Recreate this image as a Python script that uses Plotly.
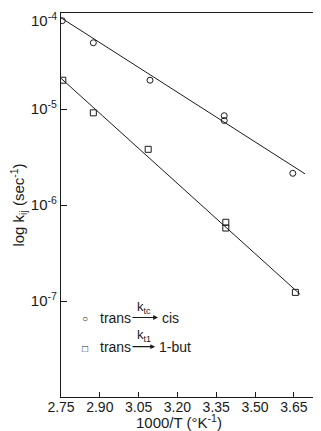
import plotly.graph_objects as go

# data
x_tc = [2.755, 2.875, 3.094, 3.381, 3.381, 3.646]
logk_tc = [-4.08, -4.31, -4.70, -5.07, -5.12, -5.67]
x_t1 = [2.757, 2.875, 3.087, 3.387, 3.387, 3.656]
logk_t1 = [-4.70, -5.04, -5.42, -6.18, -6.24, -6.91]
fit_x_tc = [2.75, 3.693]
fit_logk_tc = [-4.05, -5.675]
fit_x_t1 = [2.75, 3.674]
fit_logk_t1 = [-4.68, -6.93]
x_ticks = [2.75, 2.90, 3.05, 3.20, 3.35, 3.50, 3.65]
x_ticktext = ["2.75", "2.90", "3.05", "3.20", "3.35", "3.50", "3.65"]
y_tickexp = [-4, -5, -6, -7]

k_tc = [10 ** v for v in logk_tc]
k_t1 = [10 ** v for v in logk_t1]
fit_tc = [10 ** v for v in fit_logk_tc]
fit_t1 = [10 ** v for v in fit_logk_t1]

ink = "#1a1a1a"
font = "Liberation Sans"

fig = go.Figure()
fig.add_trace(go.Scatter(x=fit_x_tc, y=fit_tc, mode="lines",
                         line=dict(color=ink, width=1), showlegend=False))
fig.add_trace(go.Scatter(x=fit_x_t1, y=fit_t1, mode="lines",
                         line=dict(color=ink, width=1), showlegend=False))
fig.add_trace(go.Scatter(x=x_tc, y=k_tc, mode="markers",
                         marker=dict(symbol="circle-open", size=6, color=ink,
                                     line=dict(width=1)), showlegend=False))
fig.add_trace(go.Scatter(x=x_t1, y=k_t1, mode="markers",
                         marker=dict(symbol="square-open", size=6, color=ink,
                                     line=dict(width=1)), showlegend=False))

ann = []
def txt(x, y, t, size=14, xa="center"):
    ann.append(dict(x=x, y=y, xref="paper", yref="paper", text=t, showarrow=False,
                    xanchor=xa, yanchor="middle", font=dict(size=size, color=ink, family=font)))

# legend (text)
txt(0.092, 0.204, "○", size=10)
txt(0.092, 0.126, "□", size=10)
txt(0.208, 0.207, "trans")
txt(0.208, 0.131, "trans")
txt(0.319, 0.233, "k<sub>tc</sub>", size=13)
txt(0.319, 0.160, "k<sub>t1</sub>", size=13)
txt(0.381, 0.207, "cis", xa="left")
txt(0.369, 0.131, "1-but", xa="left")
for (x0, x1, y) in [(0.269, 0.373, 0.207), (0.269, 0.362, 0.131)]:
    ann.append(dict(x=x1, y=y, ax=x0, ay=y, xref="x domain", yref="y domain",
                    axref="x domain", ayref="y domain", showarrow=True, arrowhead=2,
                    arrowsize=0.8, arrowwidth=1.2, arrowcolor=ink, text=""))
# x-axis title
txt(0.455, -0.065, "1000/T (°K<sup>-1</sup>)", size=15)
# top y tick label, nudged down so it stays inside the page (as in the reference)
ann.append(dict(x=0, y=1, xref="paper", yref="paper", xanchor="right", yanchor="middle",
                xshift=-2, yshift=-6, showarrow=False,
                text="10<sup>%d</sup>" % y_tickexp[0],
                font=dict(size=15, color=ink, family=font)))

fig.update_layout(
    width=313, height=423,
    margin=dict(l=53, r=0, t=5, b=34),
    paper_bgcolor="white", plot_bgcolor="white",
    font=dict(family=font, size=13, color=ink),
    annotations=ann,
    xaxis=dict(range=[2.75, 3.755], tickvals=x_ticks, ticktext=x_ticktext,
               ticks="inside", ticklen=5, tickcolor=ink, showgrid=False,
               zeroline=False, showline=True, linecolor=ink, linewidth=1.2,
               mirror=True, tickfont=dict(size=14), ticklabelstandoff=-3,
               ticklabeloverflow="allow", automargin=False),
    yaxis=dict(type="log", range=[-8, -4],
               tickvals=[10 ** e for e in y_tickexp],
               ticktext=[""] + ["10<sup>%d</sup>" % e for e in y_tickexp[1:]],
               ticks="inside", ticklen=6, tickcolor=ink, showgrid=False,
               zeroline=False, showline=True, linecolor=ink, linewidth=1.2,
               tickfont=dict(size=15), ticklabeloverflow="allow", automargin=False,
               title=dict(text="log k<sub>ij</sub> (sec<sup>-1</sup>)", font=dict(size=15), standoff=6)),
    showlegend=False,
)

fig.write_html("out.html")
